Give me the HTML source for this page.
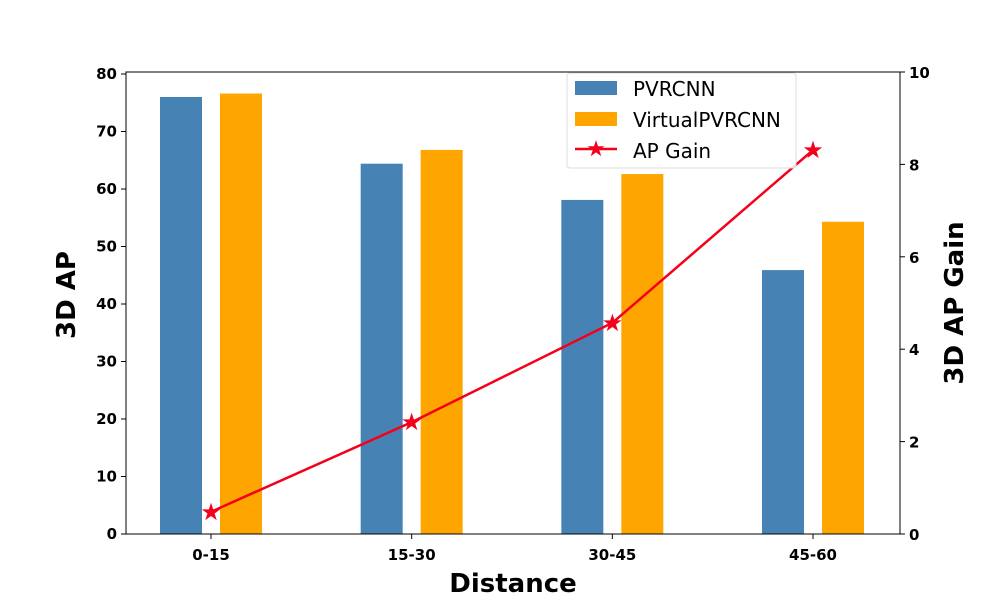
<!DOCTYPE html>
<html><head><meta charset="utf-8"><style>
body{margin:0;background:#fff}
svg text{font-family:"DejaVu Sans","Liberation Sans",sans-serif}
</style></head><body>
<svg id="chart" width="1000" height="600" xmlns="http://www.w3.org/2000/svg">
<g id="bars"></g><g id="axes"></g><g id="line"></g>
<g>
<rect x="567" y="73" width="229" height="95" rx="3" fill="#fff" fill-opacity="0.85" stroke="#ddd"/>
<rect x="575" y="81" width="42" height="14" fill="#4682b4"/>
<text x="633" y="96" font-size="20">PVRCNN</text>
<rect x="575" y="112" width="42" height="14" fill="#ffa500"/>
<text x="633" y="127" font-size="20">VirtualPVRCNN</text>
<line x1="575" y1="149" x2="617" y2="149" stroke="#f5001a" stroke-width="2.5"/>
<text x="596" y="156" font-size="22" fill="#f5001a" text-anchor="middle">★</text>
<text x="633" y="158" font-size="20">AP Gain</text>
</g>
<text x="513" y="592" font-size="26" font-weight="bold" text-anchor="middle">Distance</text>
<text transform="translate(75,295) rotate(-90)" font-size="26" font-weight="bold" text-anchor="middle">3D AP</text>
<text transform="translate(963,303) rotate(-90)" font-size="26" font-weight="bold" text-anchor="middle">3D AP Gain</text>
</svg>
<script>
const categories=["0-15","15-30","30-45","45-60"];
const pvrcnn=[76.0,64.4,58.1,45.9];
const virtualPvrcnn=[76.6,66.8,62.6,54.3];
const apGain=[0.48,2.42,4.57,8.31];
const leftTicks=[0,10,20,30,40,50,60,70,80];
const rightTicks=[0,2,4,6,8,10];
const NS="http://www.w3.org/2000/svg";
const L=126,R=900,T=72,B=534;
const xc=i=>211+i*200.67;
const yL=v=>B-v*(B-74)/80;
const yR=v=>B-v*(B-T)/10;
function mk(tag,attrs,parent,txt){const e=document.createElementNS(NS,tag);for(const k in attrs)e.setAttribute(k,attrs[k]);if(txt!==undefined)e.textContent=txt;parent.appendChild(e);return e;}
const gb=document.getElementById('bars'),ga=document.getElementById('axes'),gl=document.getElementById('line');
categories.forEach((c,i)=>{
 let b=mk('rect',{x:xc(i)-51,y:yL(pvrcnn[i]),width:42,height:B-yL(pvrcnn[i]),fill:'#4682b4'},gb);
 
 
 let o=mk('rect',{x:xc(i)+9,y:yL(virtualPvrcnn[i]),width:42,height:B-yL(virtualPvrcnn[i]),fill:'#ffa500'},gb);
 
 
 mk('line',{x1:xc(i),x2:xc(i),y1:B,y2:B+5,stroke:'#000'},ga);
 let t=mk('text',{x:xc(i),y:B+26,'font-size':15,'font-weight':'bold','text-anchor':'middle'},ga,c);
 
 
});
mk('rect',{x:L,y:T,width:R-L,height:B-T,fill:'none',stroke:'#000','stroke-width':1},ga);
leftTicks.forEach(v=>{
 mk('line',{x1:L-5,x2:L,y1:yL(v),y2:yL(v),stroke:'#000'},ga);
 let t=mk('text',{x:L-9,y:yL(v)+5,'font-size':15,'font-weight':'bold','text-anchor':'end'},ga,v);
 
 
});
rightTicks.forEach(v=>{
 mk('line',{x1:R,x2:R+5,y1:yR(v),y2:yR(v),stroke:'#000'},ga);
 let t=mk('text',{x:R+9,y:yR(v)+6,'font-size':15,'font-weight':'bold'},ga,v);
 
 
});
const pl=mk('polyline',{points:apGain.map((v,i)=>xc(i)+','+yR(v)).join(' '),fill:'none',stroke:'#f5001a','stroke-width':2.5},gl);


apGain.forEach((v,i)=>{
 let s=mk('text',{x:xc(i),y:yR(v)+8,'font-size':24,fill:'#f5001a','text-anchor':'middle'},gl,'★');
 
 
});
</script>
</body></html>
